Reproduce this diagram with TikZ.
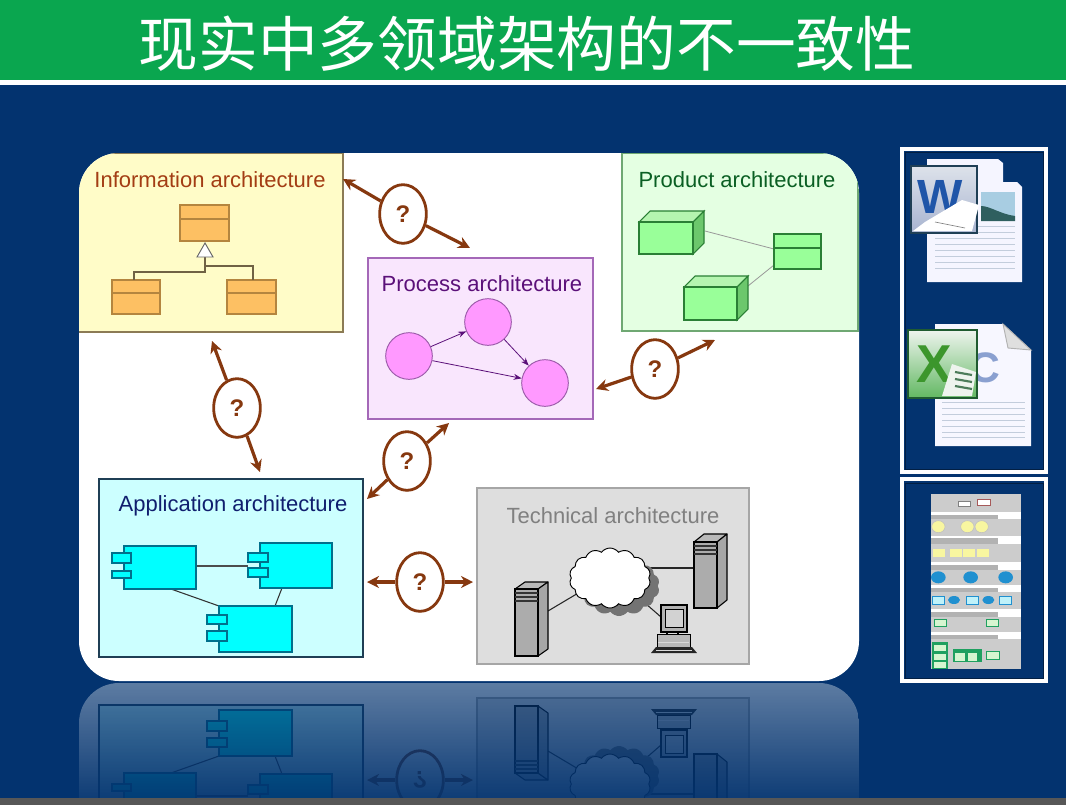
\documentclass[tikz,border=0pt]{standalone}
\usepackage{fontspec}
\setmainfont{Liberation Sans}
\newfontfamily\cjk{Noto Sans CJK SC}
\usetikzlibrary{arrows.meta,shapes.geometric,shapes.symbols,fadings}
\definecolor{navy}{HTML}{03336F}
\definecolor{bandgreen}{HTML}{0AA64F}
\definecolor{qbrown}{HTML}{86380F}
\definecolor{classor}{HTML}{FDC063}
\definecolor{classord}{HTML}{B4853F}
\definecolor{prodg}{HTML}{99FF99}
\definecolor{prodgd}{HTML}{2A7F35}
\definecolor{prodtop}{HTML}{B5F5B0}
\definecolor{prodside}{HTML}{6CC76C}
\definecolor{prodbg}{HTML}{E4FFE2}
\definecolor{prodln}{HTML}{6FA873}
\definecolor{infobg}{HTML}{FFFCC8}
\definecolor{infoln}{HTML}{8C7B55}
\definecolor{compf}{HTML}{00FFFF}
\definecolor{compd}{HTML}{00708C}
\definecolor{appbg}{HTML}{CCFFFF}
\definecolor{appbd}{HTML}{1F3F55}
\definecolor{procbg}{HTML}{F9E6FD}
\definecolor{procbd}{HTML}{A468B8}
\definecolor{circf}{HTML}{FF99FF}
\definecolor{circd}{HTML}{9A5AA8}
\definecolor{purp}{HTML}{5B1079}
\definecolor{infotx}{HTML}{A33D14}
\definecolor{prodtx}{HTML}{0A5F23}
\definecolor{apptx}{HTML}{101E6E}
\definecolor{wordbl}{HTML}{1F55A8}
\definecolor{exgreen}{HTML}{3C962C}
\definecolor{exlight}{HTML}{EEF4EE}
\definecolor{exmid}{HTML}{62B862}
\definecolor{exdark}{HTML}{1F5B30}
\definecolor{docln}{HTML}{C3CDDC}
\definecolor{cletter}{HTML}{8AA0D0}
\definecolor{sky}{HTML}{A8CDE2}
\definecolor{hill}{HTML}{2F5F5F}
\definecolor{wicon1}{HTML}{DDE2EA}
\definecolor{wicon2}{HTML}{A8B4D0}
\definecolor{thblue}{HTML}{2090D0}
\definecolor{thcyan}{HTML}{BFF2FA}
\definecolor{thyel}{HTML}{F8F6A0}
\definecolor{thgrn}{HTML}{1FA060}
\definecolor{thlg}{HTML}{D6F5D0}
\tikzfading[name=reffade,top color=transparent!36,bottom color=transparent!5]
\tikzset{
  rect/.style={rectangle,inner sep=0pt,outer sep=0pt},
  lab/.style={inner sep=0pt,font=\fontsize{16.5}{18}\selectfont},
  qoval/.style={ellipse,draw=qbrown,fill=white,line width=2.1pt,inner sep=0pt,minimum width=35pt,minimum height=44pt,text=qbrown,font=\fontsize{18}{20}\selectfont\bfseries},
  qarrow/.style={draw=qbrown,line width=2.4pt,-{Stealth[length=9pt,width=9pt]}},
  appline/.style={draw=#1,line width=.8pt},
  compbox/.style={rect,draw=compd,fill=compf,line width=.9pt},
  srvside/.style={draw=black,line width=.8pt,line join=round},
  thinarr/.style={draw=#1,line width=.6pt,-{Stealth[length=6pt,width=4.5pt]}},
  docline/.style={draw=docln,line width=.6pt},
  frameb/.style={rect,draw=white,line width=2.4pt},
}
\newcommand{\pxbox}[6]{\node[rect,#1,minimum width={(#5-#3)*0.75pt},minimum height={(#6-#4)*0.75pt}] (#2) at ({(#3+#5)/2},{(#4+#6)/2}) {};}
% name, x1,y1,x2,y2, ydiv, fill, draw
\newcommand{\umlclass}[8]{\pxbox{fill=#7,draw=#8,line width=.8pt}{#1}{#2}{#3}{#4}{#5}\draw[draw=#8,line width=.8pt] (#2,#6) -- (#4,#6);}
\newcommand{\compn}[9]{\pxbox{compbox}{#1}{#2}{#3}{#4}{#5}\pxbox{compbox}{#1t1}{#6}{#8}{#7}{#9}}
\newcommand{\comptab}[5]{\pxbox{compbox}{#1t2}{#2}{#4}{#3}{#5}}
% name, x1,y1,x2,y2, dx,dy
\newcommand{\server}[7]{%
  \fill[gray!55!white,srvside] (#2,#3) -- ({#2+#6},{#3-#7}) -- ({#4+#6},{#3-#7}) -- (#4,#3) -- cycle;
  \fill[gray!70!white,srvside] (#4,#3) -- ({#4+#6},{#3-#7}) -- ({#4+#6},{#5-#7}) -- (#4,#5) -- cycle;
  \pxbox{draw=black,fill=gray!65!white,line width=.9pt}{#1}{#2}{#3}{#4}{#5}
  \foreach \s in {4,8,12}{\draw[black!80,line width=1.1pt] (#2,{#3+\s}) -- (#4,{#3+\s});}
}
% name, x1,y1,x2,y2, d
\newcommand{\cuboid}[6]{%
  \fill[prodtop,draw=prodgd,line width=.8pt] (#2,#3) -- ({#2+#6},{#3-#6}) -- ({#4+#6},{#3-#6}) -- (#4,#3) -- cycle;
  \fill[prodside,draw=prodgd,line width=.8pt] (#4,#3) -- ({#4+#6},{#3-#6}) -- ({#4+#6},{#5-#6}) -- (#4,#5) -- cycle;
  \pxbox{draw=prodgd,fill=prodg,line width=.8pt}{#1}{#2}{#3}{#4}{#5}
}
\newcommand{\appdiagram}[1]{%
  \pxbox{draw=appbd,fill=appbg,line width=1pt}{#1app}{99}{479}{363}{657}
  \coordinate (#1AB) at (196,566);
  \coordinate (#1AC) at (171,589);
  \coordinate (#1BC) at (282,588);
  \coordinate (#1CB) at (275,606);
  \coordinate (#1CA) at (219,606);
  \coordinate (#1BA) at (248,566);
  \draw[appline=gray!60!black] (#1AB) -- (#1BA);
  \draw[appline=black!80] (#1AC) -- (#1CA);
  \draw[appline=black!80] (#1BC) -- (#1CB);
  \compn{#1A}{124}{546}{196}{589}{112}{131}{553}{563}\comptab{#1A}{112}{131}{571}{578}
  \compn{#1B}{260}{543}{332}{588}{248}{268}{553}{562}\comptab{#1B}{248}{268}{568}{577}
  \compn{#1C}{219}{606}{292}{652}{207}{227}{615}{624}\comptab{#1C}{207}{227}{631}{641}
}
\newcommand{\techdiagram}[1]{%
  \pxbox{draw=gray!70!white,fill=black!13,line width=1pt}{#1tech}{477}{488}{749}{664}
  \coordinate (#1lA) at (548,611);
  \coordinate (#1lB) at (590,586);
  \coordinate (#1clE) at (640,568);
  \coordinate (#1lC) at (630,590);
  \coordinate (#1lD) at (661,617);
  \coordinate (#1lE) at (694,568);
  \draw[black!85,line width=.8pt] (#1clE) -- (#1lE);
  \draw[black!85,line width=.8pt] (#1lA) -- (#1lB);
  \draw[black!85,line width=.8pt] (#1lC) -- (#1lD);
  \node[cloud,cloud puffs=14,cloud puff arc=105,aspect=1.4,fill=gray!90!black,draw=none,inner sep=0pt,minimum width=61pt,minimum height=45pt] (#1cs) at (619,586) {};
  \node[cloud,cloud puffs=14,cloud puff arc=105,aspect=1.4,fill=white,draw=black,line width=.7pt,inner sep=0pt,minimum width=61pt,minimum height=45pt] (#1cloud) at (610,578) {};
  \pxbox{draw=black,fill=gray!60!white,line width=.9pt}{#1mon}{661}{605}{687}{632}
  \pxbox{draw=black,fill=gray!35!white,line width=.5pt}{#1scr}{665}{609}{683}{627}
  \pxbox{draw=black,fill=gray!55!white,line width=.6pt}{#1cpu}{657}{634}{690}{647}
  \draw[black,line width=.8pt] (667,632) -- (667,634) (678,632) -- (678,634);
  \fill[black!85] (656,647) -- (692,647) -- (697,653) -- (651,653) -- cycle;
  \draw[gray!30,line width=.4pt] (658,642) -- (689,642) (656,650) -- (692,650);
  \server{#1srvL}{515}{589}{538}{656}{10}{7}
  \server{#1srvR}{694}{542}{717}{608}{10}{8}
}
\begin{document}
\begin{tikzpicture}[x=0.75pt,y=-0.75pt]
\useasboundingbox (0,0) rectangle (1066,804);
\fill[navy] (-5,-5) rectangle (1071,810);
% reflection
\begin{scope}
  \clip (0,683) rectangle (1066,798);
  \clip[rounded corners=30pt] (79,683) rectangle (859,900);
  \fill[white] (79,683) rectangle (859,804);
  \begin{scope}[cm={1,0,0,-1,(0,1362)}]
    \appdiagram{r}
    \techdiagram{r}
    \node[qoval,transform shape] (rq4) at (420,582) {?};
    \coordinate (rq4a) at (367,582);
    \coordinate (rq4b) at (473,582);
    \draw[qarrow] (rq4) -- (rq4a);
    \draw[qarrow] (rq4) -- (rq4b);
  \end{scope}
\end{scope}
\fill[navy,path fading=reffade] (70,682) rectangle (870,798);
\fill[black!66] (-5,798) rectangle (1071,810);
% title
\fill[bandgreen] (-5,-5) rectangle (1071,80);
\fill[white] (-5,80) rectangle (1071,85);
\node[text=white,font=\cjk\fontsize{44.8}{50}\selectfont,inner sep=0pt] (title) at (527,44) {现实中多领域架构的不一致性};
% panel
\fill[white,rounded corners=30pt] (79,153) rectangle (859,681);
\begin{scope}
  \clip[rounded corners=30pt] (79,153) rectangle (859,681);
  \pxbox{draw=infoln,fill=infobg,line width=1pt}{info}{76}{153}{343}{332}
  \pxbox{draw=prodln,fill=prodbg,line width=.8pt}{prod}{622}{153}{858}{331}
\end{scope}
% Information
\node[lab,text=infotx] (infot) at (210,180) {Information architecture};
\umlclass{ic1}{180}{205}{229}{241}{219}{classor}{classord}
\umlclass{ic2}{112}{280}{160}{314}{293}{classor}{classord}
\umlclass{ic3}{227}{280}{276}{314}{293}{classor}{classord}
\coordinate (tri) at (205,257);
\coordinate (trm) at (205,272);
\coordinate (trl) at (134,272);
\coordinate (trn) at (134,280);
\coordinate (tro) at (205,266);
\coordinate (trr) at (253,266);
\coordinate (trs) at (253,280);
\draw[draw=infoln!80!black,line width=.8pt] (tri) -- (trm) -- (trl) -- (trn);
\draw[draw=infoln!80!black,line width=.8pt] (tro) -- (trr) -- (trs);
\draw[draw=black!60,fill=white,line width=.7pt] (205,243) -- (213,257) -- (197,257) -- cycle;
% Product
\node[lab,text=prodtx] (prodt) at (737,180) {Product architecture};
\coordinate (pa1) at (705,231);
\coordinate (pa2) at (774,249);
\coordinate (pb1) at (748,286);
\coordinate (pb2) at (774,265);
\draw[gray!80,line width=.6pt] (pa1) -- (pa2);
\draw[gray!80,line width=.6pt] (pb1) -- (pb2);
\cuboid{pr1}{639}{222}{693}{254}{11}
\cuboid{pr2}{684}{287}{737}{320}{11}
\umlclass{pr3}{774}{234}{821}{269}{248}{prodg}{prodgd}
% Process
\pxbox{draw=procbd,fill=procbg,line width=.8pt}{proc}{368}{258}{593}{419}
\node[lab,text=purp] (proct) at (482,284) {Process architecture};
\foreach \n/\x/\y in {pL/409/356,pT/488/322,pR/545/383}{
  \node[circle,draw=circd,fill=circf,line width=.7pt,minimum size=35pt,inner sep=0pt] (\n) at (\x,\y) {};
}
\draw[thinarr=purp] (pL) -- (pT);
\draw[thinarr=purp] (pT) -- (pR);
\draw[thinarr=purp] (pL) -- (pR);
% Application and Technical
\appdiagram{}
\node[lab,text=apptx] (appt) at (233,506) {Application architecture};
\techdiagram{}
\node[lab,text=gray] (techt) at (613,516) {Technical architecture};
% question ovals
\foreach \n/\x/\y/\ax/\ay/\bx/\by in {q1/403/214/343/179/470/248,q2/237/408/212/341/260/472,q3/407/461/449/423/367/499,q4/420/582/367/582/473/582,q5/655/369/596/389/715/340}{
  \node[qoval] (\n) at (\x,\y) {?};
  \coordinate (\n a) at (\ax,\ay);
  \coordinate (\n b) at (\bx,\by);
  \draw[qarrow] (\n) -- (\n a);
  \draw[qarrow] (\n) -- (\n b);
}
% frames
\pxbox{draw=navy!60!black,line width=.7pt}{f1i}{905}{152}{1043}{469}
\pxbox{draw=navy!60!black,line width=.7pt}{f2i}{905}{483}{1043}{678}
\pxbox{frameb}{f1}{902}{149}{1046}{472}
\pxbox{frameb}{f2}{902}{479}{1046}{681}
% Word document
\fill[blue!4!white] (927,159) -- (998,159) -- (1003,163) -- (1003,182) -- (1017,182) -- (1022,187) -- (1022,282) -- (927,282) -- cycle;
\foreach \y in {226,232,238,244,250,256,262,268}{\draw[docline] (935,\y) -- (1015,\y);}
\fill[sky] (981,192) rectangle (1015,221);
\fill[hill] (981,206) .. controls (990,206) and (1000,214) .. (1015,216) -- (1015,221) -- (981,221) -- cycle;
\shade[top color=wicon1,bottom color=wicon2,draw=appbd,line width=.8pt] (911,166) rectangle (977,233);
\node[font=\fontsize{36}{36}\selectfont\bfseries,text=wordbl,inner sep=0pt] (wordw) at (940,197) {W};
\fill[white] (925,222) -- (962,200) -- (979,205) -- (972,231) -- (913,231) -- cycle;
\draw[gray,line width=.5pt] (935,222) -- (965,228);
% Excel document
\fill[blue!3!white] (935,324) -- (1003,324) -- (1031,350) -- (1031,446) -- (935,446) -- cycle;
\fill[gray!25!white,draw=gray!60!white,line width=.7pt] (1003,324) -- (1031,350) -- (1008,348) -- cycle;
\node[font=\fontsize{32}{32}\selectfont\bfseries,text=cletter,inner sep=0pt] (excc) at (985,368) {C};
\foreach \y in {402,408,414,420,426,432,437}{\draw[docline] (942,\y) -- (1025,\y);}
\shade[top color=exlight,bottom color=exmid,draw=exdark,line width=1pt] (908,330) rectangle (977,398);
\node[font=\fontsize{40}{40}\selectfont\bfseries,text=exgreen,inner sep=0pt] (excx) at (934,364) {X};
\fill[exlight] (952,364) -- (976,372) -- (972,396) -- (942,396) -- cycle;
\foreach \y in {372,379,386}{\draw[exdark!80,line width=1.6pt] (955,\y) -- (972,{\y+3});}
% thumbnail
\begin{scope}[shift={(890,470)},x=0.25pt,y=-0.25pt]
  \fill[black!20] (124,72) rectangle (393,597);
  \foreach \a/\b in {127/148,197/222,277/300,345/365,417/440,487/507}{
    \fill[white] (124,\a) rectangle (393,\a+8);
    \fill[white] (325,\a+8) rectangle (393,\b);
    \fill[black!30] (124,\a+8) rectangle (325,\b);
  }
  \foreach \x in {145,232,275}{\fill[thyel,draw=gray!50] (\x,170) ellipse (20 and 18);}
  \foreach \x in {148,197,238,280}{\fill[thyel] (\x-18,238) rectangle (\x+18,262);}
  \foreach \x in {145,242,347}{\fill[thblue] (\x,322) ellipse (22 and 18);}
  \foreach \x in {192,295}{\fill[thblue] (\x,390) ellipse (18 and 12);}
  \foreach \x in {145,248,347}{\fill[thcyan,draw=thblue] (\x-18,378) rectangle (\x+18,402);}
  \foreach \x in {150,306}{\fill[thlg,draw=thgrn] (\x-18,448) rectangle (\x+18,470);}
  \fill[white,draw=gray] (205,93) rectangle (240,108);
  \fill[white,draw=red!30!gray] (262,88) rectangle (300,106);
  \fill[thgrn] (126,515) rectangle (175,597);
  \foreach \y in {535,562,585}{\fill[thlg] (132,\y-9) rectangle (168,\y+9);}
  \fill[thgrn] (190,538) rectangle (275,577);
  \foreach \x in {210,248}{\fill[thlg] (\x-14,548) rectangle (\x+14,572);}
  \fill[thlg,draw=thgrn] (288,545) rectangle (327,568);
\end{scope}
\end{tikzpicture}
\end{document}
